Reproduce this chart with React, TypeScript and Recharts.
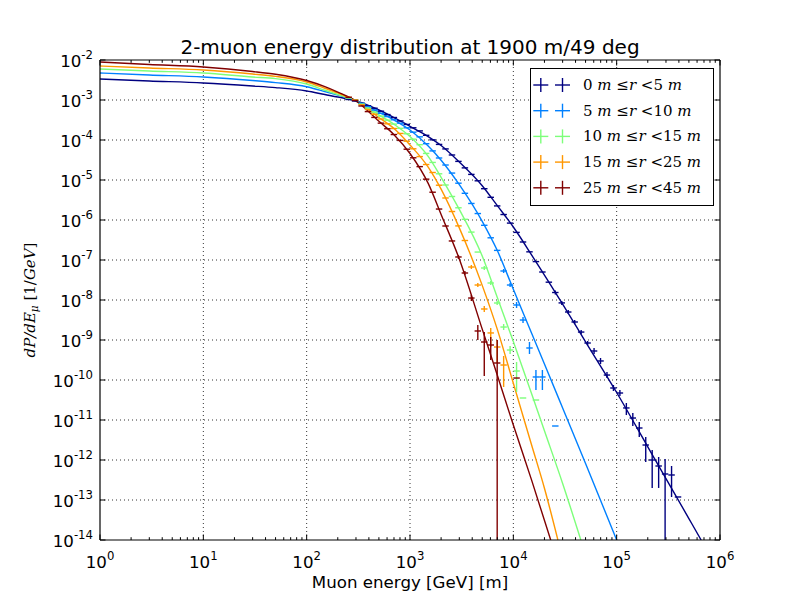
import React from 'react';
import {
  ComposedChart,
  Line,
  Scatter,
  ErrorBar,
  XAxis,
  YAxis,
  ReferenceLine,
  Legend,
} from 'recharts';

// bin centres (GeV), 16 bins per decade
const ENERGY_BINS = [
  255, 294, 340, 392, 453, 523, 604, 698, 806, 931, 1075, 1241, 1433, 1655, 1911, 2207, 2548,
  2943, 3398, 3924, 4532, 5233, 6043, 6978, 8058, 9306, 10746, 12409, 14330, 16548, 19110, 22067,
  25483, 29427, 33982, 39242, 45316, 52330, 60430, 69783, 80584, 93057, 107460, 124090, 143300,
  165480, 191100, 220670, 254830, 294270, 339820, 392420,
];
const BIN_HALF = 10 ** (1 / 32);

// simulated points, aligned with ENERGY_BINS (null = empty bin)
const NAVY_P = [
  1.03e-3, 9.44e-4, 8.32e-4, 7.2e-4, 6.24e-4, 5.25e-4, 4.32e-4, 3.65e-4, 3.0e-4, 2.45e-4, 2.02e-4,
  1.69e-4, 1.31e-4, 1.01e-4, 7.76e-5, 5.99e-5, 4.22e-5, 2.92e-5, 2.01e-5, 1.38e-5, 9.55e-6, 6.06e-6,
  3.69e-6, 2.25e-6, 1.37e-6, 8.37e-7, 4.9e-7, 2.82e-7, 1.6e-7, 9.12e-8, 5.01e-8, 2.79e-8, 1.54e-8,
  8.46e-9, 5.01e-9, 2.82e-9, 1.58e-9, 8.41e-10, 5.31e-10, 2.99e-10, 1.33e-10, 6.31e-11, 4.73e-11,
  2.0e-11, 1.12e-11, 6.31e-12, 2.37e-12, 1.0e-12, 7.08e-13, 4.47e-13, 4.22e-13, 1.19e-13,
];
const BLUE_P = [
  1.1e-3, 9.89e-4, 8.22e-4, 6.84e-4, 5.62e-4, 4.65e-4, 3.85e-4, 3.2e-4, 2.63e-4, 2.02e-4, 1.57e-4,
  1.2e-4, 8.08e-5, 5.34e-5, 3.55e-5, 2.37e-5, 1.49e-5, 8.32e-6, 4.65e-6, 2.59e-6, 1.45e-6, 7.37e-7,
  3.59e-7, 1.74e-7, 5.31e-8, 2.37e-8, 7.5e-9, 3.16e-9, 6.31e-10, 1.19e-10, 1.19e-10, null, 7.08e-12,
];
const GREEN_P = [
  1.12e-3, 1.0e-3, 7.9e-4, 6.27e-4, 4.98e-4, 3.96e-4, 3.13e-4, 2.5e-4, 1.96e-4, 1.43e-4, 1.05e-4,
  7.63e-5, 4.62e-5, 2.75e-5, 1.43e-5, 7.5e-6, 3.87e-6, 2.02e-6, 1.04e-6, 4.98e-7, 1.58e-7, 6.31e-8,
  2.66e-8, 8.41e-9, 2.11e-9, 5.62e-10, 1.68e-10, 3.55e-11, null, 3.16e-11,
];
const ORANGE_P = [
  1.16e-3, 1.0e-3, 7.59e-4, 5.79e-4, 4.39e-4, 3.35e-4, 2.54e-4, 1.94e-4, 1.46e-4, 9.33e-5, 6.03e-5,
  3.85e-5, 2.44e-5, 1.54e-5, 7.41e-6, 3.55e-6, 1.63e-6, 7.12e-7, 3.07e-7, 6.68e-8, 2.37e-8, 5.96e-9,
  1.5e-9, 6.68e-10, 2.37e-10,
];
const RED_P = [
  1.17e-3, 9.72e-4, 7.08e-4, 5.13e-4, 3.67e-4, 2.64e-4, 1.91e-4, 1.37e-4, 9.77e-5, 5.89e-5, 3.59e-5,
  2.16e-5, 1.05e-5, 4.95e-6, 1.88e-6, 7.08e-7, 2.99e-7, 1.19e-7, 4.73e-8, 1.12e-8, 1.68e-9, 8.91e-10,
  7.5e-10, 2.66e-10, null, null, 1.12e-10,
];

// vertical error bounds: [bin index, lower, upper]
const NAVY_ERR = [
  [32, 1.37e-8, 1.73e-8], [33, 7.5e-9, 9.5e-9], [34, 4.47e-9, 5.62e-9], [35, 2.51e-9, 3.16e-9],
  [36, 1.41e-9, 1.78e-9], [37, 7.5e-10, 9.44e-10], [38, 4.47e-10, 6.31e-10], [39, 2.51e-10, 3.55e-10],
  [40, 1.12e-10, 1.58e-10], [41, 5.31e-11, 7.5e-11], [42, 3.98e-11, 5.62e-11], [43, 1.33e-11, 2.66e-11],
  [44, 7.08e-12, 1.5e-11], [45, 3.76e-12, 8.91e-12], [46, 8.91e-13, 3.76e-12], [47, 2.0e-13, 1.78e-12],
  [48, 2.0e-13, 1.19e-12], [49, 1e-14, 1.06e-12], [50, 1.19e-13, 7.08e-13],
];
const BLUE_ERR = [
  [24, 4.73e-8, 5.96e-8], [25, 2.11e-8, 2.66e-8], [26, 6.31e-9, 8.91e-9], [27, 2.66e-9, 3.76e-9],
  [28, 4.47e-10, 8.91e-10], [29, 5.62e-11, 1.78e-10], [30, 5.62e-11, 1.78e-10],
];
const GREEN_ERR = [
  [21, 5.62e-8, 7.08e-8], [22, 2.37e-8, 2.99e-8], [23, 7.5e-9, 9.44e-9], [24, 1.78e-9, 2.51e-9],
  [25, 4.47e-10, 7.08e-10], [26, 5.01e-11, 2.82e-10],
];
const ORANGE_ERR = [
  [19, 5.96e-8, 7.5e-8], [20, 2.11e-8, 2.66e-8], [21, 5.01e-9, 7.08e-9], [22, 6.68e-10, 2.0e-9],
  [23, 2.66e-10, 1.0e-9], [24, 6.68e-11, 3.98e-10],
];
const RED_ERR = [
  [17, 1.06e-7, 1.33e-7], [18, 4.22e-8, 5.31e-8], [19, 9.44e-9, 1.33e-8], [20, 1.0e-9, 2.37e-9],
  [21, 1.26e-10, 1.58e-9], [22, 3.16e-10, 1.19e-9], [23, 1e-14, 1.0e-9],
];

// model curves sampled at CURVE_E, each ends where it leaves the plot
const CURVE_E = [
  1, 3, 10, 30, 50, 100, 150, 200, 300, 500, 700, 1000, 1500, 2000, 3000, 5000, 7000, 1e4, 1.5e4,
  2e4, 3e4, 5e4, 1e5, 2e5, 5e5,
];
const NAVY_CURVE = [
  3.35e-3, 2.99e-3, 2.66e-3, 2.24e-3, 2.04e-3, 1.68e-3, 1.37e-3, 1.19e-3, 9.44e-4, 5.62e-4, 3.65e-4,
  2.2e-4, 1.22e-4, 7.29e-5, 2.82e-5, 7.2e-6, 2.28e-6, 6.68e-7, 1.35e-7, 4.17e-8, 7.85e-9, 9.02e-10,
  4.87e-11, 2.14e-12, 3.43e-14,
];
const BLUE_CURVE = [
  4.73e-3, 4.22e-3, 3.76e-3, 3.07e-3, 2.72e-3, 2.15e-3, 1.63e-3, 1.32e-3, 9.61e-4, 4.93e-4, 3.16e-4,
  1.78e-4, 7.08e-5, 3.13e-5, 7.67e-6, 9.28e-7, 1.72e-7, 1.85e-8, 1.5e-9, 2.51e-10, 2.0e-11, 8.22e-13,
];
const GREEN_CURVE = [
  5.96e-3, 5.31e-3, 4.73e-3, 3.76e-3, 3.43e-3, 2.51e-3, 1.75e-3, 1.37e-3, 9.44e-4, 4.24e-4, 2.47e-4,
  1.22e-4, 3.89e-5, 1.17e-5, 1.84e-6, 1.26e-7, 1.15e-8, 9.12e-10, 4.62e-11, 5.37e-12, 2.59e-13,
];
const ORANGE_CURVE = [
  7.08e-3, 6.31e-3, 5.62e-3, 4.47e-3, 3.89e-3, 2.82e-3, 1.97e-3, 1.5e-3, 9.44e-4, 3.65e-4, 1.93e-4,
  7.5e-5, 2.1e-5, 5.89e-6, 6.35e-7, 2.32e-8, 1.84e-9, 8.27e-11, 2.4e-12, 1.97e-13,
];
const RED_CURVE = [
  8.91e-3, 7.72e-3, 6.68e-3, 5.16e-3, 4.39e-3, 3.07e-3, 2.16e-3, 1.58e-3, 9.44e-4, 2.93e-4, 1.36e-4,
  4.6e-5, 8.22e-6, 1.38e-6, 1.06e-7, 1.87e-9, 1.31e-10, 7.5e-12, 3.18e-13,
];

const X_MAJOR = [1, 10, 100, 1e3, 1e4, 1e5, 1e6];
const X_MINOR_STEPS = [2, 3, 4, 5, 6, 7, 8, 9];
const Y_MAJOR = [
  1e-14, 1e-13, 1e-12, 1e-11, 1e-10, 1e-9, 1e-8, 1e-7, 1e-6, 1e-5, 1e-4, 1e-3, 1e-2,
];
const Y_FLOOR = 1e-14;

const SERIES = [
  { id: 'r0', color: '#000080', lo: '0', hi: '5', pts: NAVY_P, err: NAVY_ERR, curve: NAVY_CURVE, end: 657000 },
  { id: 'r5', color: '#0080ff', lo: '5', hi: '10', pts: BLUE_P, err: BLUE_ERR, curve: BLUE_CURVE, end: 1e5 },
  { id: 'r10', color: '#7dff7a', lo: '10', hi: '15', pts: GREEN_P, err: GREEN_ERR, curve: GREEN_CURVE, end: 45000 },
  { id: 'r15', color: '#ff9700', lo: '15', hi: '25', pts: ORANGE_P, err: ORANGE_ERR, curve: ORANGE_CURVE, end: 27000 },
  { id: 'r25', color: '#800000', lo: '25', hi: '45', pts: RED_P, err: RED_ERR, curve: RED_CURVE, end: 23000 },
];

const X_TICKS = [
  ...X_MAJOR,
  ...X_MAJOR.slice(0, -1).flatMap((m) => X_MINOR_STEPS.map((s) => s * m)),
].sort((a, b) => a - b);

function buildPoints(values, errors) {
  const errMap = new Map(errors.map(([i, lo, hi]) => [i, [lo, hi]]));
  const out = [];
  values.forEach((p, i) => {
    if (p == null) return;
    const e = ENERGY_BINS[i];
    const err = errMap.get(i);
    out.push({
      e,
      p,
      ex: [e - e / BIN_HALF, e * BIN_HALF - e],
      ey: err ? [p - err[0], err[1] - p] : [0, 0],
    });
  });
  return out;
}

function buildCurve(values, end) {
  return [...values.map((p, i) => ({ e: CURVE_E[i], p })), { e: end, p: Y_FLOOR }];
}

const isMajor = (v) => {
  const l = Math.log10(v);
  return Math.abs(l - Math.round(l)) < 1e-6;
};

const SANS = 'DejaVu Sans';
const SERIF = 'DejaVu Serif';
const MAJOR_LEN = 5.5;
const MINOR_LEN = 2.8;

function Pow10({ x, y, exp, anchor }) {
  return (
    <text x={x} y={y} textAnchor={anchor} fontFamily={SANS} fontSize={16.67} fill="#000">
      10
      <tspan dy={-8} fontSize={11.7}>
        {exp}
      </tspan>
    </text>
  );
}

function BottomTick({ x, y, payload }) {
  const v = payload.value;
  const major = isMajor(v);
  return (
    <g>
      <line x1={x} x2={x} y1={y} y2={y - (major ? MAJOR_LEN : MINOR_LEN)} stroke="#000" />
      {major && <Pow10 x={x} y={y + 28} exp={String(Math.round(Math.log10(v)))} anchor="middle" />}
    </g>
  );
}

function TopTick({ x, y, payload }) {
  const major = isMajor(payload.value);
  return <line x1={x} x2={x} y1={y} y2={y + (major ? MAJOR_LEN : MINOR_LEN)} stroke="#000" />;
}

function LeftTick({ x, y, payload }) {
  const exp = Math.round(Math.log10(payload.value));
  return (
    <g>
      <line x1={x} x2={x + MAJOR_LEN} y1={y} y2={y} stroke="#000" />
      <Pow10 x={x - 7} y={y + 7} exp={String(exp)} anchor="end" />
    </g>
  );
}

function RightTick({ x, y }) {
  return <line x1={x} x2={x - MAJOR_LEN} y1={y} y2={y} stroke="#000" />;
}

function LegendBox() {
  return (
    <svg width={184} height={138} style={{ display: 'block' }}>
      <rect x={0.5} y={0.5} width={183} height={137} fill="#fff" stroke="#000" strokeWidth={1} />
      {SERIES.map((s, i) => {
        const cy = 17 + i * 25.7;
        return (
          <g key={s.id}>
            {[10.8, 32.5].map((cx) => (
              <g key={cx} stroke={s.color} strokeWidth={1.4}>
                <line x1={cx - 7.5} x2={cx + 7.5} y1={cy} y2={cy} />
                <line x1={cx} x2={cx} y1={cy - 7} y2={cy + 7} />
              </g>
            ))}
            <text x={53} y={cy + 5} fontFamily={SERIF} fontSize={15} fill="#000">
              {s.lo + ' '}
              <tspan fontStyle="italic">m</tspan>
              {'  \u2264'}
              <tspan fontStyle="italic">r</tspan>
              {' <' + s.hi + ' '}
              <tspan fontStyle="italic">m</tspan>
            </text>
          </g>
        );
      })}
    </svg>
  );
}

export default function App() {
  const gridX = X_MAJOR.slice(1, -1);
  const gridY = Y_MAJOR.slice(1, -1);

  return (
    <div style={{ position: 'absolute', left: 0, top: 0, width: 800, height: 600, background: '#fff' }}>
      <ComposedChart
        width={800}
        height={600}
        margin={{ top: 0, right: 0, bottom: 0, left: 0 }}
        style={{ fontFamily: SANS }}
      >
        <XAxis
          xAxisId="bottom"
          type="number"
          dataKey="e"
          scale="log"
          domain={[1, 1e6]}
          allowDataOverflow
          ticks={X_TICKS}
          interval={0}
          tickSize={0}
          tickMargin={0}
          tickLine={false}
          tick={BottomTick}
          height={60}
          axisLine={{ stroke: '#000', strokeWidth: 1.2 }}
          label={() => (
            <text x={410} y={588} textAnchor="middle" fontFamily={SANS} fontSize={16.67} fill="#000">
              Muon energy [GeV] [m]
            </text>
          )}
        />
        <XAxis
          xAxisId="top"
          orientation="top"
          type="number"
          dataKey="e"
          scale="log"
          domain={[1, 1e6]}
          allowDataOverflow
          ticks={X_TICKS}
          interval={0}
          tickSize={0}
          tickMargin={0}
          tickLine={false}
          tick={TopTick}
          height={60}
          axisLine={{ stroke: '#000', strokeWidth: 1.2 }}
          label={() => (
            <text x={410} y={54} textAnchor="middle" fontFamily={SANS} fontSize={20} fill="#000">
              2-muon energy distribution at 1900 m/49 deg
            </text>
          )}
        />
        <YAxis
          yAxisId="left"
          type="number"
          dataKey="p"
          scale="log"
          domain={[1e-14, 1e-2]}
          allowDataOverflow
          ticks={Y_MAJOR}
          interval={0}
          tickSize={0}
          tickMargin={0}
          tickLine={false}
          tick={LeftTick}
          width={100}
          axisLine={{ stroke: '#000', strokeWidth: 1.2 }}
          label={() => (
            <text
              x={35}
              y={300}
              transform="rotate(-90, 35, 300)"
              textAnchor="middle"
              fontFamily={SERIF}
              fontSize={15}
              fill="#000"
            >
              <tspan fontStyle="italic">dP/dE</tspan>
              <tspan fontStyle="italic" fontSize={10.5} dy={3}>
                μ
              </tspan>
              <tspan dy={-3}>{' [1/'}</tspan>
              <tspan fontStyle="italic">GeV</tspan>
              <tspan>]</tspan>
            </text>
          )}
        />
        <YAxis
          yAxisId="right"
          orientation="right"
          type="number"
          scale="log"
          domain={[1e-14, 1e-2]}
          allowDataOverflow
          ticks={Y_MAJOR}
          interval={0}
          tickSize={0}
          tickMargin={0}
          tickLine={false}
          tick={RightTick}
          width={80}
          axisLine={{ stroke: '#000', strokeWidth: 1.2 }}
        />

        {gridX.map((v) => (
          <ReferenceLine
            key={'gx' + v}
            xAxisId="bottom"
            yAxisId="left"
            x={v}
            stroke="#000"
            strokeWidth={0.8}
            strokeDasharray="1 3"
          />
        ))}
        {gridY.map((v) => (
          <ReferenceLine
            key={'gy' + v}
            xAxisId="bottom"
            yAxisId="left"
            y={v}
            stroke="#000"
            strokeWidth={0.8}
            strokeDasharray="1 3"
          />
        ))}

        {SERIES.map((s) => (
          <Line
            key={s.id + '-curve'}
            xAxisId="bottom"
            yAxisId="left"
            data={buildCurve(s.curve, s.end)}
            dataKey="p"
            type="monotone"
            stroke={s.color}
            strokeWidth={1.4}
            dot={false}
            activeDot={false}
            isAnimationActive={false}
          />
        ))}
        {SERIES.map((s) => (
          <Scatter
            key={s.id + '-pts'}
            xAxisId="bottom"
            yAxisId="left"
            data={buildPoints(s.pts, s.err)}
            dataKey="p"
            fill={s.color}
            shape={() => <g />}
            isAnimationActive={false}
          >
            <ErrorBar
              direction="x"
              dataKey={(d) => (d.payload ?? d).ex}
              width={0}
              stroke={s.color}
              strokeWidth={1.4}
              isAnimationActive={false}
            />
            <ErrorBar
              direction="y"
              dataKey={(d) => (d.payload ?? d).ey}
              width={0}
              stroke={s.color}
              strokeWidth={1.4}
              isAnimationActive={false}
            />
          </Scatter>
        ))}

        <Legend
          content={() => <LegendBox />}
          layout="horizontal"
          verticalAlign="middle"
          align="center"
          wrapperStyle={{ position: 'absolute', left: 530, top: 68, width: 184, height: 138 }}
        />
      </ComposedChart>
    </div>
  );
}
